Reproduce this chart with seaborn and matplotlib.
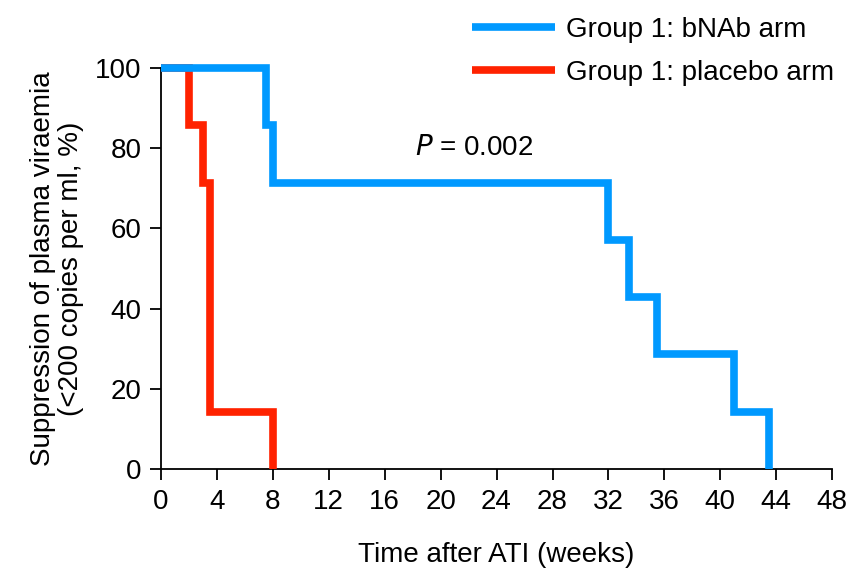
import matplotlib
matplotlib.use("Agg")
import matplotlib.pyplot as plt
import seaborn as sns
import pandas as pd

# Kaplan-Meier style step data (weeks after ATI, % suppressed)
bnab_weeks = [0, 7.5, 8, 32, 33.5, 35.5, 41, 43.5]
bnab_pct = [100, 85.7, 71.4, 57.1, 42.9, 28.6, 14.3, 0]
placebo_weeks = [0, 2, 3, 3.5, 8]
placebo_pct = [100, 85.7, 71.4, 14.3, 0]

x_ticks = list(range(0, 49, 4))
y_ticks = [0, 20, 40, 60, 80, 100]

sns.set_style("ticks")
plt.rcParams['font.family'] = ['Liberation Sans', 'DejaVu Sans']
plt.rcParams['text.color'] = 'black'
plt.rcParams['axes.labelcolor'] = 'black'

df_bnab = pd.DataFrame({"week": bnab_weeks, "pct": bnab_pct})
df_plac = pd.DataFrame({"week": placebo_weeks, "pct": placebo_pct})

FS = 20

fig = plt.figure(figsize=(8.51, 5.77), dpi=100)
ax = fig.add_axes([0.189, 0.187, 0.789, 0.695])

line_kw = dict(lw=5.5, drawstyle="steps-post", estimator=None, sort=False,
               clip_on=False, solid_capstyle="butt", solid_joinstyle="miter")
sns.lineplot(data=df_bnab, x="week", y="pct", ax=ax, color="#0099FF",
             label="Group 1: bNAb arm", zorder=4, **line_kw)
sns.lineplot(data=df_plac, x="week", y="pct", ax=ax, color="#FF2200",
             label="Group 1: placebo arm", zorder=3, **line_kw)

ax.set_xlim(0, 48)
ax.set_ylim(0, 100)
ax.set_xticks(x_ticks)
ax.set_yticks(y_ticks)
ax.tick_params(labelsize=FS, length=8, width=1.3, direction="out", pad=6,
               colors="black")
for s in ["left", "bottom"]:
    ax.spines[s].set_linewidth(1.3)
    ax.spines[s].set_color("black")
sns.despine(ax=ax)

ax.set_xlabel("Time after ATI (weeks)", fontsize=FS, labelpad=20)
ax.set_ylabel("Suppression of plasma viraemia\n(<200 copies per ml, %)",
              fontsize=FS, labelpad=8, linespacing=1.1)

ax.text(22.4, 80, "$P$ = 0.002", fontsize=FS, ha="center", va="center")

handles, labels = ax.get_legend_handles_labels()
ax.get_legend().remove()
fig.legend(handles, labels, loc="upper right", bbox_to_anchor=(1.0, 1.0),
           frameon=False, fontsize=FS, handlelength=3.0, labelspacing=0.62,
           handletextpad=0.4, borderaxespad=0.2)

fig.savefig("out.png", dpi=100)
